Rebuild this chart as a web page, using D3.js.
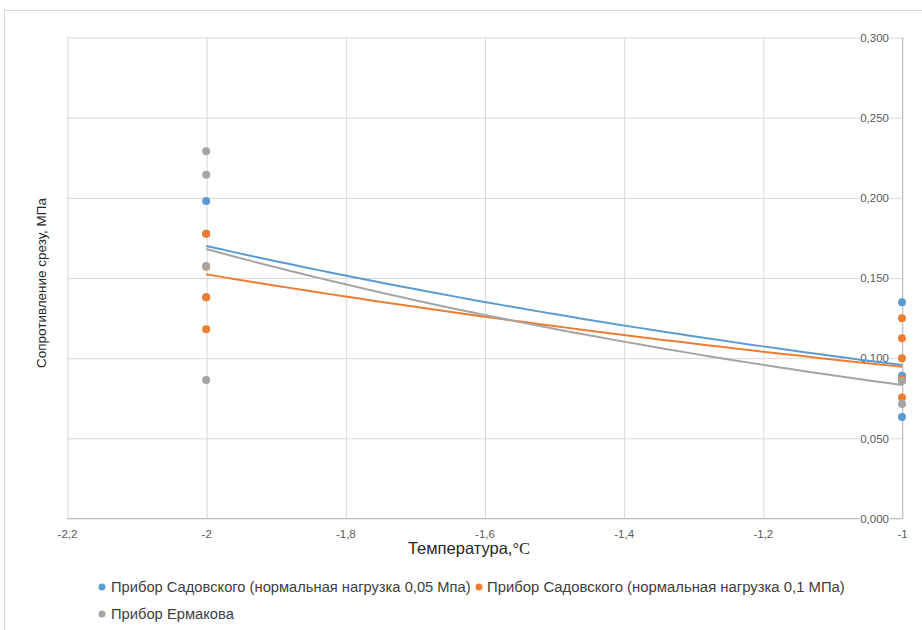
<!DOCTYPE html>
<html><head><meta charset="utf-8">
<script src="https://cdn.jsdelivr.net/npm/d3@7"></script>
<style>
html,body{margin:0;padding:0;background:#fff;}
svg{display:block;font-family:"Liberation Sans",Arial,sans-serif;}
</style></head>
<body>
<svg id="c" width="922" height="630"></svg>
<script>
// ---- data ----
const seriesNames = [
  "Прибор Садовского (нормальная нагрузка 0,05 Мпа)",
  "Прибор Садовского (нормальная нагрузка 0,1 МПа)",
  "Прибор Ермакова"
];
const seriesColors = ["#5B9BD5", "#ED7D31", "#A5A5A5"];
const blueX = [-2, -2, -2, -1, -1, -1];
const blueY = [0.198, 0.1776, 0.138, 0.1348, 0.089, 0.0633];
const orangeX = [-2, -2, -2, -2, -1, -1, -1, -1, -1];
const orangeY = [0.1776, 0.157, 0.138, 0.118, 0.1249, 0.1124, 0.0999, 0.0868, 0.0754];
const grayX = [-2, -2, -2, -2, -1, -1];
const grayY = [0.229, 0.2144, 0.1575, 0.0864, 0.0858, 0.0714];
// exponential trend lines: values at x = -2 and x = -1
const trendX = [-2, -1];
const trendBlue = [0.1700, 0.0957];
const trendOrange = [0.1523, 0.0946];
const trendGray = [0.1681, 0.0833];
const xTickValues = [-2.2, -2, -1.8, -1.6, -1.4, -1.2, -1];
const xTickLabels = ["-2,2", "-2", "-1,8", "-1,6", "-1,4", "-1,2", "-1"];
const yTickValues = [0, 0.05, 0.1, 0.15, 0.2, 0.25, 0.3];
const yTickLabels = ["0,000", "0,050", "0,100", "0,150", "0,200", "0,250", "0,300"];
const xTitle = "Температура,";
const xTitleUnit = "°С";
const yTitle = "Сопротивление срезу, МПа";

// ---- layout ----
const svg = d3.select("#c");
const L = 67, R = 902, T = 37.5, B = 518.5;
const x = d3.scaleLinear().domain([-2.2, -1]).range([L, R]);
const y = d3.scaleLinear().domain([0, 0.3]).range([B, T]);

// outer border
svg.append("rect").attr("x", 4.5).attr("y", 10.5).attr("width", 1000).attr("height", 1000)
  .attr("fill", "#fff").attr("stroke", "#D9D9D9").attr("stroke-width", 1);

// gridlines
const gx = svg.append("g").attr("transform", `translate(0,${B})`)
  .call(d3.axisBottom(x).tickValues(xTickValues).tickSize(-(B - T)).tickFormat(""));
gx.select(".domain").remove();
gx.selectAll("line").attr("stroke", "#D9D9D9").attr("stroke-width", 1)
  .attr("transform", "translate(0.5,0)");
const gy = svg.append("g").attr("transform", `translate(${R},0)`)
  .call(d3.axisLeft(y).tickValues(yTickValues).tickSize(R - L).tickFormat(""));
gy.select(".domain").remove();
gy.selectAll("line").attr("stroke", "#D9D9D9").attr("stroke-width", 1);

// axes lines
svg.append("line").attr("x1", L).attr("x2", R + 0.5).attr("y1", B).attr("y2", B)
  .attr("stroke", "#BFBFBF").attr("stroke-width", 1);
svg.append("line").attr("x1", R + 0.5).attr("x2", R + 0.5).attr("y1", T).attr("y2", B)
  .attr("stroke", "#BFBFBF").attr("stroke-width", 1);

// y tick labels (axis on the right, labels inside)
const yAxisG = svg.append("g").attr("transform", `translate(${R},0)`)
  .call(d3.axisLeft(y).tickValues(yTickValues).tickSize(0).tickPadding(13)
    .tickFormat((d, i) => yTickLabels[i]));
yAxisG.select(".domain").remove();
yAxisG.selectAll("text").attr("font-size", 11.5).attr("fill", "#595959")
  .attr("font-family", "Liberation Sans, Arial, sans-serif");
yAxisG.selectAll(".tick").each(function () {
  const t = d3.select(this).select("text").node();
  const bb = t.getBBox();
  d3.select(this).insert("rect", "text").attr("x", bb.x - 1).attr("y", bb.y + 2)
    .attr("width", bb.width + 2).attr("height", bb.height - 4).attr("fill", "#fff");
});

// x tick labels
const xAxisG = svg.append("g").attr("transform", `translate(0,${B})`)
  .call(d3.axisBottom(x).tickValues(xTickValues).tickSize(0).tickPadding(11)
    .tickFormat((d, i) => xTickLabels[i]));
xAxisG.select(".domain").remove();
xAxisG.selectAll("text").attr("font-size", 11.5).attr("fill", "#595959")
  .attr("font-family", "Liberation Sans, Arial, sans-serif");

// trend lines (exponential between the two fitted end values)
const trends = [trendBlue, trendOrange, trendGray];
const line = d3.line().x(d => x(d[0])).y(d => y(d[1]));
trends.forEach((tv, i) => {
  const b = Math.log(tv[1] / tv[0]) / (trendX[1] - trendX[0]);
  const a = tv[0] / Math.exp(b * trendX[0]);
  const pts = d3.ticks(trendX[0], trendX[1], 60).map(v => [v, a * Math.exp(b * v)]);
  svg.append("path").attr("d", line(pts)).attr("fill", "none")
    .attr("stroke", seriesColors[i]).attr("stroke-width", 2);
});

// points
const series = [[blueX, blueY], [orangeX, orangeY], [grayX, grayY]];
series.forEach((s, i) => {
  svg.append("g").selectAll("circle").data(s[0].map((v, j) => [v, s[1][j]]))
    .join("circle").attr("cx", d => x(d[0])).attr("cy", d => y(d[1])).attr("r", 4)
    .attr("fill", seriesColors[i]);
});

// fit text width helper
function fit(sel, w, base) {
  sel.attr("font-size", base);
  const cur = sel.node().getComputedTextLength();
  sel.attr("font-size", base * w / cur);
}

// x title
const xt = svg.append("text").attr("x", 469).attr("y", 554).attr("text-anchor", "middle")
  .attr("fill", "#262626").attr("font-size", 16.5);
xt.append("tspan").text(xTitle);
xt.append("tspan").attr("font-family", "Liberation Serif, Times New Roman, serif").text(xTitleUnit);

// y title
const yt = svg.append("text").attr("transform", "translate(46,283) rotate(-90)")
  .attr("text-anchor", "middle").attr("fill", "#262626").text(yTitle);
fit(yt, 170, 13);

// legend
const legendPos = [[102, 587, 111, 360], [479, 587, 487, 358], [102, 614, 111, 123]];
seriesNames.forEach((n, i) => {
  const p = legendPos[i];
  svg.append("circle").attr("cx", p[0]).attr("cy", p[1]).attr("r", 3.5).attr("fill", seriesColors[i]);
  const t = svg.append("text").attr("x", p[2]).attr("y", p[1] + 4.5).attr("fill", "#404040").text(n);
  fit(t, p[3], 13);
});
</script>
</body></html>
